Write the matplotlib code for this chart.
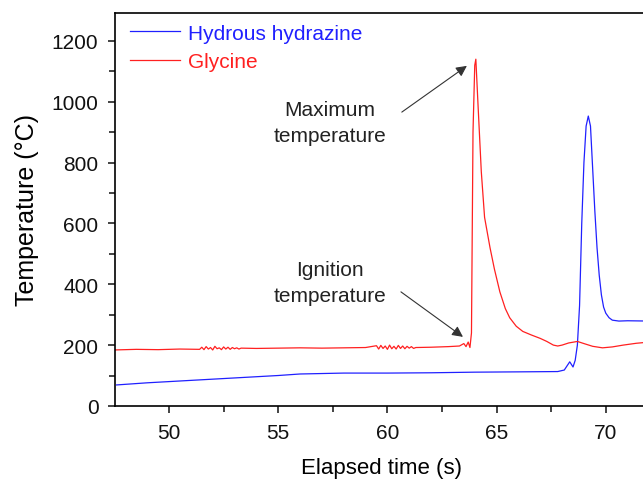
import numpy as np
import matplotlib
matplotlib.use("Agg")
import matplotlib.pyplot as plt
from matplotlib.ticker import MultipleLocator

plt.rcParams['font.family'] = ['Liberation Sans', 'DejaVu Sans']

# glycine trace
gly_t = [47.5, 48.5, 49.5, 50.5, 51.4,
         51.5, 51.6, 51.7, 51.8, 51.9, 52.0, 52.1, 52.2, 52.3, 52.4, 52.5, 52.6, 52.7, 52.8,
         52.9, 53.0, 53.1, 53.2, 53.3,
         54.0, 55.0, 56.0, 57.0, 58.0, 59.0,
         59.5, 59.6, 59.7, 59.8, 59.9, 60.0, 60.1, 60.2, 60.3, 60.4, 60.5, 60.6, 60.7, 60.8,
         60.9, 61.0, 61.1, 61.2, 61.3,
         62.0, 62.8, 63.3, 63.5, 63.6, 63.7, 63.78, 63.85, 63.92, 64.0, 64.05, 64.15, 64.3,
         64.45, 64.55, 64.7, 64.9, 65.15, 65.4, 65.6, 65.9, 66.2, 66.6, 67.0, 67.3, 67.6,
         67.8, 68.0, 68.3, 68.7, 69.0, 69.4, 69.85, 70.3, 70.8, 71.4, 72.0]
gly_T = [184, 186, 185, 187, 186,
         193, 185, 195, 187, 192, 184, 196, 188, 191, 185, 194, 187, 193, 186,
         192, 188, 191, 187, 190,
         189, 190, 191, 190, 191, 192,
         198, 187, 199, 189, 197, 186, 200, 188, 196, 187, 199, 189, 197, 188,
         196, 190, 195, 189, 192,
         193, 195, 197, 205, 195, 210, 192, 240, 900, 1120, 1140, 990, 770,
         620, 580, 520, 450, 375, 320, 290, 262, 245, 233, 222, 212, 200,
         197, 200, 207, 212, 205, 196, 191, 194, 200, 206, 210]

# hydrous hydrazine trace
hyd_t = [47.6, 49.0, 50.0, 52.0, 54.0, 55.0, 56.0, 58.0, 60.0, 62.0, 64.0, 66.0, 67.8,
         68.1, 68.35, 68.5, 68.6, 68.7, 68.8, 68.9, 69.0, 69.1, 69.2, 69.3, 69.4, 69.5,
         69.6, 69.7, 69.8, 69.9, 70.0, 70.15, 70.3, 70.6, 71.0, 72.0]
hyd_T = [69, 76, 80, 88, 96, 100, 105, 108, 108, 109, 111, 112, 113,
         118, 145, 128, 150, 200, 330, 600, 800, 920, 953, 920, 780, 640,
         520, 430, 365, 325, 305, 290, 282, 279, 280, 279]

fig = plt.figure(figsize=(6.43, 4.81), dpi=100)
ax = fig.add_axes([0.179, 0.154, 0.83, 0.817])

ax.plot(hyd_t, hyd_T, color='#2020ff', lw=0.9, label='Hydrous hydrazine')
ax.plot(gly_t, gly_T, color='#ff2020', lw=0.9, label='Glycine')

ax.set_xlim(47.53, 71.97)
ax.set_ylim(0, 1292)
ax.xaxis.set_major_locator(MultipleLocator(5))
ax.xaxis.set_minor_locator(MultipleLocator(2.5))
ax.yaxis.set_major_locator(MultipleLocator(200))
ax.yaxis.set_minor_locator(MultipleLocator(100))
ax.tick_params(which='both', direction='out', width=1.1, labelsize=15, colors='#111111')
ax.tick_params(which='major', length=5)
ax.tick_params(which='minor', length=4)
ax.tick_params(axis='x', which='major', pad=7)
ax.tick_params(axis='y', which='major', pad=7)
for s in ax.spines.values():
    s.set_linewidth(1.2)
ax.spines['right'].set_visible(False)

ax.set_xlabel('Elapsed time (s)', fontsize=16, labelpad=11)
ax.set_ylabel('Temperature (°C)', fontsize=18, labelpad=9)

leg = ax.legend(loc='upper left', frameon=False, fontsize=15, handlelength=2.4,
                handletextpad=0.4, labelspacing=0.45, borderaxespad=0.3,
                bbox_to_anchor=(0.0, 1.01))
for txt, ln in zip(leg.get_texts(), leg.get_lines()):
    txt.set_color(ln.get_color())

arrow = dict(arrowstyle='-|>', color='#333333', lw=0.8, mutation_scale=16, shrinkA=0, shrinkB=0)
ax.annotate('Maximum\ntemperature', xy=(63.64, 1118), xytext=(57.37, 932),
            ha='center', va='center', fontsize=15, color='#222222', linespacing=1.45)
ax.annotate('', xy=(63.64, 1118), xytext=(60.66, 966), arrowprops=arrow)
ax.annotate('Ignition\ntemperature', xy=(63.46, 227), xytext=(57.37, 406),
            ha='center', va='center', fontsize=15, color='#222222', linespacing=1.45)
ax.annotate('', xy=(63.46, 227), xytext=(60.62, 375), arrowprops=arrow)

fig.savefig('out.png', dpi=100)
